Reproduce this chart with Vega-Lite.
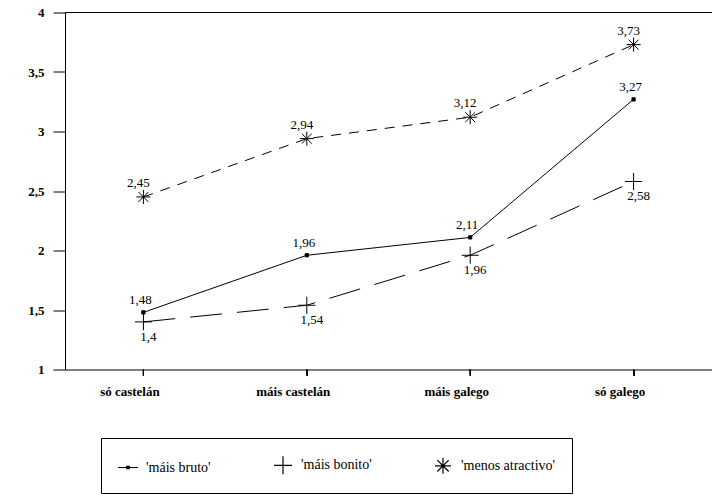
{
  "$schema": "https://vega.github.io/schema/vega-lite/v6.json",
  "width": 647,
  "height": 357,
  "autosize": {"type": "none"},
  "padding": {"left": 65, "top": 12.5, "right": 0, "bottom": 125.5},
  "background": "white",
  "config": {
    "view": {"stroke": null},
    "font": "Liberation Serif",
    "locale": {"number": {"decimal": ",", "thousands": ".", "grouping": [3], "currency": ["", " €"]}},
    "axis": {"grid": false, "domain": true, "ticks": true, "domainColor": "black", "tickColor": "black", "tickOpacity": 1, "labelColor": "black", "labelFont": "Liberation Serif", "labelFontSize": 13, "labelFontWeight": "bold"},
    "axisX": {"labelAngle": 0, "labelOffset": -14, "labelPadding": 10, "tickSize": 6, "ticks": true},
    "axisY": {"labelPadding": 9, "tickSize": 12, "format": "~g"}
  },
  "resolve": {"scale": {"shape": "independent"}, "legend": {"shape": "independent"}},
  "data": {"values": [
    {"cat": "só castelán", "serie": "'máis bruto'", "v": 1.48},
    {"cat": "máis castelán", "serie": "'máis bruto'", "v": 1.96},
    {"cat": "máis galego", "serie": "'máis bruto'", "v": 2.11},
    {"cat": "só galego", "serie": "'máis bruto'", "v": 3.27},
    {"cat": "só castelán", "serie": "'máis bonito'", "v": 1.4},
    {"cat": "máis castelán", "serie": "'máis bonito'", "v": 1.54},
    {"cat": "máis galego", "serie": "'máis bonito'", "v": 1.96},
    {"cat": "só galego", "serie": "'máis bonito'", "v": 2.58},
    {"cat": "só castelán", "serie": "'menos atractivo'", "v": 2.45},
    {"cat": "máis castelán", "serie": "'menos atractivo'", "v": 2.94},
    {"cat": "máis galego", "serie": "'menos atractivo'", "v": 3.12},
    {"cat": "só galego", "serie": "'menos atractivo'", "v": 3.73}
  ]},
  "layer": [
    {
      "data": {"values": [{}]},
      "mark": {"type": "rule", "color": "black", "strokeWidth": 1},
      "encoding": {"y": {"datum": 4, "type": "quantitative", "title": null}}
    },
    {
      "mark": {"type": "rule", "color": "black", "strokeWidth": 1.2, "clip": false},
      "encoding": {
        "x": {"field": "cat", "type": "ordinal", "sort": ["só castelán", "máis castelán", "máis galego", "só galego"], "title": null},
        "y": {"datum": 1, "type": "quantitative", "title": null},
        "y2": {"datum": 0.95}
      }
    },
    {
      "transform": [{"filter": "datum.serie == \"'máis bruto'\""}],
      "mark": {"type": "line", "color": "black", "strokeWidth": 1},
      "encoding": {
        "x": {"field": "cat", "type": "ordinal", "sort": ["só castelán", "máis castelán", "máis galego", "só galego"],
          "scale": {"type": "point", "padding": 0.48}, "title": null,
          "axis": {"ticks": true, "tickSize": 6, "tickColor": "black", "tickOpacity": 1, "tickWidth": 1}},
        "y": {"field": "v", "type": "quantitative", "scale": {"domain": [1, 4], "nice": false, "zero": false}, "title": null}
      }
    },
    {
      "transform": [{"filter": "datum.serie == \"'máis bonito'\""}],
      "mark": {"type": "line", "color": "black", "strokeWidth": 1, "strokeDash": [32, 15]},
      "encoding": {
        "x": {"field": "cat", "type": "ordinal", "sort": ["só castelán", "máis castelán", "máis galego", "só galego"], "title": null},
        "y": {"field": "v", "type": "quantitative", "title": null}
      }
    },
    {
      "transform": [{"filter": "datum.serie == \"'menos atractivo'\""}],
      "mark": {"type": "line", "color": "black", "strokeWidth": 1, "strokeDash": [10, 8]},
      "encoding": {
        "x": {"field": "cat", "type": "ordinal", "sort": ["só castelán", "máis castelán", "máis galego", "só galego"], "title": null},
        "y": {"field": "v", "type": "quantitative", "title": null}
      }
    },
    {
      "mark": {"type": "point", "filled": true, "fill": "black", "stroke": "black", "strokeWidth": 1, "opacity": 1, "size": 324},
      "encoding": {
        "x": {"field": "cat", "type": "ordinal", "sort": ["só castelán", "máis castelán", "máis galego", "só galego"], "title": null},
        "y": {"field": "v", "type": "quantitative", "title": null},
        "shape": {"field": "serie", "type": "nominal",
          "scale": {"domain": ["'máis bruto'", "'máis bonito'", "'menos atractivo'"],
            "range": ["M-0.18,-0.18L0.18,-0.18L0.18,0.18L-0.18,0.18Z", "M-0.95,0L0.95,0M0,-0.95L0,0.95", "M-0.78,0L0.78,0M0,-0.78L0,0.78M-0.55,-0.55L0.55,0.55M-0.55,0.55L0.55,-0.55"]},
          "legend": null}
      }
    },
    {
      "transform": [{"filter": "false"}],
      "mark": {"type": "point", "filled": false, "color": "black", "strokeWidth": 1, "opacity": 1, "size": 400},
      "encoding": {
        "x": {"field": "cat", "type": "ordinal", "sort": ["só castelán", "máis castelán", "máis galego", "só galego"], "title": null},
        "y": {"field": "v", "type": "quantitative", "title": null},
        "shape": {"field": "serie", "type": "nominal",
          "scale": {"domain": ["'máis bruto'", "'máis bonito'", "'menos atractivo'"],
            "range": ["M-1,0L1,0M-0.12,-0.12L0.12,-0.12L0.12,0.12L-0.12,0.12Z", "M-0.9,0L0.9,0M0,-0.9L0,0.9", "M-0.8,0L0.8,0M0,-0.8L0,0.8M-0.57,-0.57L0.57,0.57M-0.57,0.57L0.57,-0.57"]},
          "legend": {
            "title": null, "orient": "none", "legendX": 36, "legendY": 425.5, "direction": "horizontal",
            "strokeColor": "black", "padding": 16, "symbolSize": 400, "symbolStrokeWidth": 1.2,
            "symbolStrokeColor": "black", "symbolFillColor": "black", "symbolOpacity": 1,
            "labelFont": "Liberation Serif", "labelFontSize": 14, "labelColor": "black", "labelOffset": 7,
            "labelLimit": 300, "columnPadding": 60
          }}
      }
    },
    {
      "transform": [{"filter": "datum.serie == \"'máis bruto'\""}],
      "mark": {"type": "text", "dx": -3, "dy": -12, "font": "Liberation Serif", "fontSize": 13, "color": "black"},
      "encoding": {
        "x": {"field": "cat", "type": "ordinal", "sort": ["só castelán", "máis castelán", "máis galego", "só galego"], "title": null},
        "y": {"field": "v", "type": "quantitative", "title": null},
        "text": {"field": "v", "type": "quantitative", "format": "~g"}
      }
    },
    {
      "transform": [{"filter": "datum.serie == \"'menos atractivo'\""}],
      "mark": {"type": "text", "dx": -5, "dy": -14, "font": "Liberation Serif", "fontSize": 13, "color": "black"},
      "encoding": {
        "x": {"field": "cat", "type": "ordinal", "sort": ["só castelán", "máis castelán", "máis galego", "só galego"], "title": null},
        "y": {"field": "v", "type": "quantitative", "title": null},
        "text": {"field": "v", "type": "quantitative", "format": "~g"}
      }
    },
    {
      "transform": [{"filter": "datum.serie == \"'máis bonito'\""}],
      "mark": {"type": "text", "dx": 5, "dy": 15, "font": "Liberation Serif", "fontSize": 13, "color": "black"},
      "encoding": {
        "x": {"field": "cat", "type": "ordinal", "sort": ["só castelán", "máis castelán", "máis galego", "só galego"], "title": null},
        "y": {"field": "v", "type": "quantitative", "title": null},
        "text": {"field": "v", "type": "quantitative", "format": "~g"}
      }
    }
  ]
}
